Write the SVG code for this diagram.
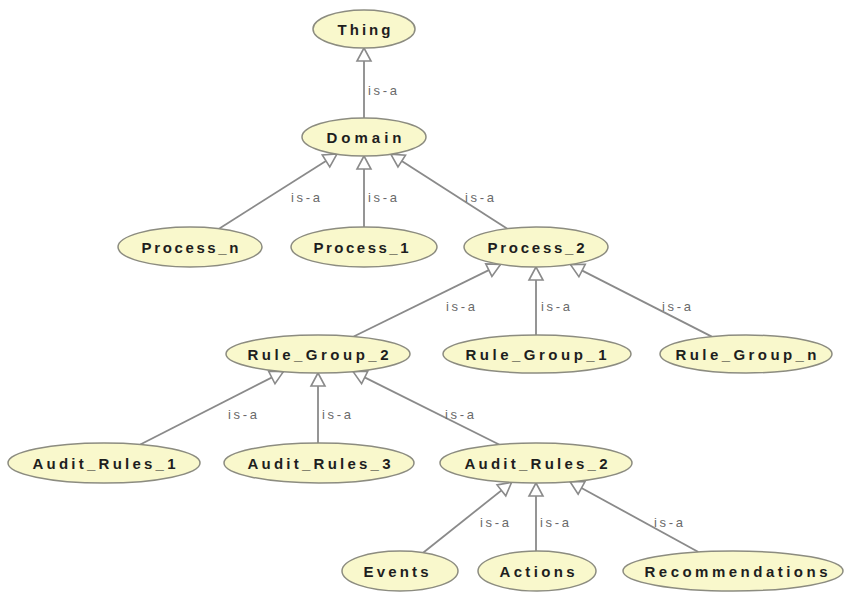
<svg xmlns="http://www.w3.org/2000/svg" width="845" height="592" viewBox="0 0 845 592">
  <style>
    .node ellipse { fill: #f9f8cc; stroke: #8c8c80; stroke-width: 1.5; }
    .node text { font-family: "Liberation Sans", Arial, sans-serif; font-size: 15px; font-weight: bold; fill: #1e1e1e; text-anchor: middle; }
    .edge { stroke: #8a8a8a; stroke-width: 1.8; fill: none; marker-end: url(#isa); }
    .lbl { font-family: "Liberation Sans", Arial, sans-serif; font-size: 13px; fill: #6a6a6a; }
  </style>
  <defs>
    <!-- hollow triangle for "is-a" (subclass) links -->
    <marker id="isa" markerUnits="userSpaceOnUse" viewBox="0 0 20 20" markerWidth="20" markerHeight="20" refX="16" refY="10" orient="auto">
      <path d="M16,10 L3,3 L3,17 Z" fill="#ffffff" stroke="#8a8a8a" stroke-width="1.6" stroke-linejoin="miter"/>
    </marker>
  </defs>
  <rect width="845" height="592" fill="#ffffff"/>

  <g id="connectors">
    <line class="edge" x1="364" y1="118" x2="364" y2="48"/>
    <line class="edge" x1="219" y1="228.7" x2="337" y2="154"/>
    <line class="edge" x1="364" y1="227" x2="364" y2="156"/>
    <line class="edge" x1="507.3" y1="228.7" x2="390.8" y2="154.1"/>
    <line class="edge" x1="353.7" y1="336.5" x2="500.5" y2="264.4"/>
    <line class="edge" x1="536" y1="335" x2="536" y2="267"/>
    <line class="edge" x1="711.8" y1="336.6" x2="570.5" y2="264.6"/>
    <line class="edge" x1="140.3" y1="444.5" x2="283.4" y2="371.6"/>
    <line class="edge" x1="318" y1="443" x2="318" y2="373"/>
    <line class="edge" x1="499.1" y1="444.5" x2="353.1" y2="371.6"/>
    <line class="edge" x1="423.1" y1="552.7" x2="511.6" y2="482.3"/>
    <line class="edge" x1="536" y1="551" x2="536" y2="483"/>
    <line class="edge" x1="698.4" y1="552" x2="570.1" y2="481.7"/>

    <text class="lbl" x="368" y="95" textLength="29" lengthAdjust="spacing">is-a</text>
    <text class="lbl" x="291" y="202" textLength="29" lengthAdjust="spacing">is-a</text>
    <text class="lbl" x="368" y="202" textLength="29" lengthAdjust="spacing">is-a</text>
    <text class="lbl" x="465" y="202" textLength="29" lengthAdjust="spacing">is-a</text>
    <text class="lbl" x="446" y="311" textLength="29" lengthAdjust="spacing">is-a</text>
    <text class="lbl" x="541" y="311" textLength="29" lengthAdjust="spacing">is-a</text>
    <text class="lbl" x="662" y="311" textLength="29" lengthAdjust="spacing">is-a</text>
    <text class="lbl" x="228" y="419" textLength="29" lengthAdjust="spacing">is-a</text>
    <text class="lbl" x="322" y="419" textLength="29" lengthAdjust="spacing">is-a</text>
    <text class="lbl" x="445" y="419" textLength="29" lengthAdjust="spacing">is-a</text>
    <text class="lbl" x="480" y="527" textLength="29" lengthAdjust="spacing">is-a</text>
    <text class="lbl" x="540" y="527" textLength="29" lengthAdjust="spacing">is-a</text>
    <text class="lbl" x="654" y="527" textLength="29" lengthAdjust="spacing">is-a</text>
  </g>

  <g id="thing" class="node"><ellipse cx="364" cy="29" rx="51" ry="19"/><text x="364" y="34.5" textLength="53" lengthAdjust="spacing">Thing</text></g>
  <g id="domain" class="node"><ellipse cx="364" cy="137" rx="62" ry="19"/><text x="364" y="142.5" textLength="75" lengthAdjust="spacing">Domain</text></g>
  <g id="process_n" class="node"><ellipse cx="190" cy="247" rx="72" ry="20"/><text x="190" y="252.5" textLength="97" lengthAdjust="spacing">Process_n</text></g>
  <g id="process_1" class="node"><ellipse cx="364" cy="247" rx="73" ry="20"/><text x="361" y="252.5" textLength="95" lengthAdjust="spacing">Process_1</text></g>
  <g id="process_2" class="node"><ellipse cx="536" cy="247" rx="72" ry="20"/><text x="536" y="252.5" textLength="97" lengthAdjust="spacing">Process_2</text></g>
  <g id="rule_group_2" class="node"><ellipse cx="318" cy="354" rx="92" ry="19"/><text x="318" y="359.5" textLength="141" lengthAdjust="spacing">Rule_Group_2</text></g>
  <g id="rule_group_1" class="node"><ellipse cx="537" cy="354" rx="94" ry="19"/><text x="536" y="359.5" textLength="141" lengthAdjust="spacing">Rule_Group_1</text></g>
  <g id="rule_group_n" class="node"><ellipse cx="746" cy="354" rx="86" ry="19"/><text x="746" y="359.5" textLength="141" lengthAdjust="spacing">Rule_Group_n</text></g>
  <g id="audit_rules_1" class="node"><ellipse cx="104" cy="463" rx="96" ry="20"/><text x="104" y="468.5" textLength="143" lengthAdjust="spacing">Audit_Rules_1</text></g>
  <g id="audit_rules_3" class="node"><ellipse cx="319" cy="463" rx="95" ry="20"/><text x="319" y="468.5" textLength="143" lengthAdjust="spacing">Audit_Rules_3</text></g>
  <g id="audit_rules_2" class="node"><ellipse cx="536" cy="463" rx="96" ry="20"/><text x="536" y="468.5" textLength="143" lengthAdjust="spacing">Audit_Rules_2</text></g>
  <g id="events" class="node"><ellipse cx="400" cy="571" rx="58" ry="20"/><text x="396" y="576.5" textLength="65" lengthAdjust="spacing">Events</text></g>
  <g id="actions" class="node"><ellipse cx="537" cy="571" rx="59" ry="20"/><text x="537" y="576.5" textLength="75" lengthAdjust="spacing">Actions</text></g>
  <g id="recommendations" class="node"><ellipse cx="733" cy="571" rx="110" ry="20"/><text x="736" y="576.5" textLength="183" lengthAdjust="spacing">Recommendations</text></g>
</svg>
